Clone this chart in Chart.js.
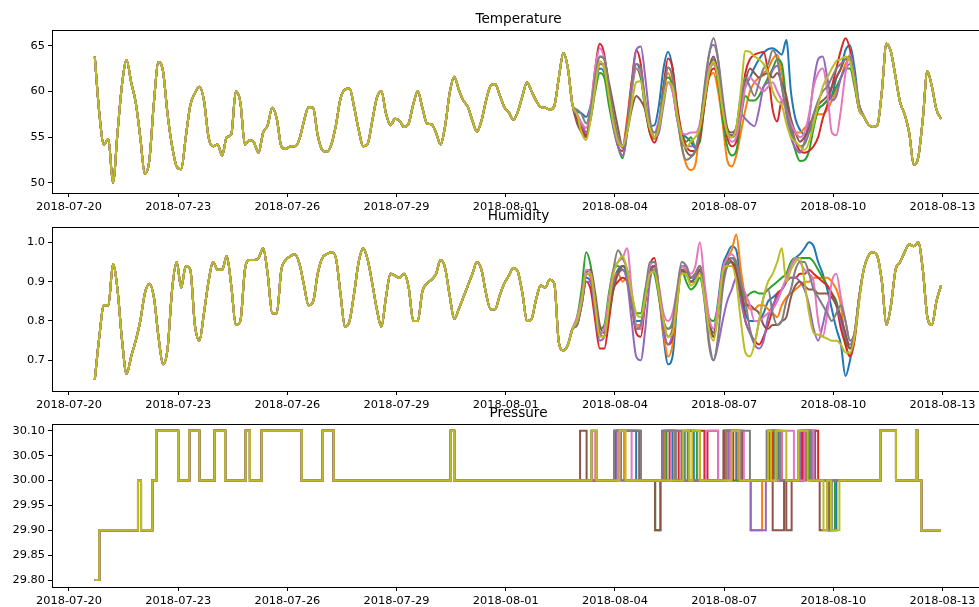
<!DOCTYPE html>
<html>
<head>
<meta charset="utf-8">
<title>Sensor readings</title>
<script src="https://cdn.jsdelivr.net/npm/chart.js"></script>
<style>
  html, body { margin: 0; padding: 0; background: #fff; overflow: hidden; }
  body { width: 979px; height: 607px; position: relative; }
  canvas { position: absolute; left: 0; }
  #tempChart { top: 0; }
  #humidChart { top: 200px; }
  #pressChart { top: 395px; }
</style>
</head>
<body>
<canvas id="tempChart" width="1000" height="215"></canvas>
<canvas id="humidChart" width="1000" height="213"></canvas>
<canvas id="pressChart" width="1000" height="214"></canvas>
<script>
// one colour per sensor, matplotlib tab10 order
const seriesColors = ['#1f77b4', '#ff7f0e', '#2ca02c', '#d62728', '#9467bd', '#8c564b', '#e377c2', '#7f7f7f', '#bcbd22'];

// readings every 3 hours, first one 2018-07-20 17:00 (x is hours since 07-20 00:00)
const startHour = 17;
const stepHours = 3;

const tickHours = [0, 72, 144, 216, 288, 360, 432, 504, 576];
const tickLabels = ['2018-07-20', '2018-07-23', '2018-07-26', '2018-07-29', '2018-08-01',
                    '2018-08-04', '2018-08-07', '2018-08-10', '2018-08-13'];

// ---- temperature ----
// sensors agree closely until Aug 2, then spread apart until Aug 10
const tempHead = [
  63.8, 57.6, 54.2, 54.8, 50.0, 55.5, 60.8, 63.4, 61.0, 58.8,
  55.0, 51.0, 52.5, 58.8, 63.2, 62.2, 57.5, 54.0, 51.8, 51.5,
  55.0, 58.5, 59.8, 60.5, 59.0, 55.0, 54.0, 54.2, 53.0, 55.0,
  55.3, 60.0, 58.8, 54.2, 54.7, 54.4, 53.3, 55.5, 56.3, 58.2,
  57.0, 54.0, 53.7, 54.0, 54.0, 54.8, 56.8, 58.3, 58.2, 55.2,
  53.6, 53.4, 54.2, 56.3, 59.2, 60.2, 60.3, 58.3, 55.8, 54.0,
  54.3, 56.8, 59.3, 60.0, 57.6, 56.3, 57.0, 56.8, 56.1, 56.5,
  58.6, 60.0, 58.2, 56.5, 56.4, 55.5, 54.2, 56.2, 59.8, 61.6,
  60.2, 59.0, 58.3, 56.8, 55.6, 56.8, 59.0, 60.6, 60.8, 59.6,
  58.3, 57.7, 56.9, 57.8, 59.5, 61.0, 60.0, 59.0, 58.3, 58.2,
  58.0, 58.4, 61.5, 64.2, 62.5, 58.5
];
const tempBlue = [
  57.8, 57.6, 57.2, 58.5, 61.0, 62.5, 62.0, 59.0, 56.5, 54.5,
  54.0, 56.5, 60.5, 63.0, 62.0, 58.0, 56.2, 56.3, 58.5, 62.5,
  64.3, 62.5, 58.0, 55.5, 55.0, 54.5, 53.8, 55.0, 58.5, 62.0,
  63.5, 61.0, 57.0, 55.5, 55.2, 56.0, 59.5, 60.5, 61.5, 62.6,
  63.5, 64.2, 64.6, 64.7, 64.4, 64.0, 65.6, 60.0, 57.0, 55.8,
  55.3, 55.5, 56.5, 58.0, 58.5, 59.0, 59.5, 61.5, 62.5, 64.5,
  65.0, 62.5, 58.5
];
const tempOrange = [
  57.0, 55.5, 55.0, 57.5, 61.0, 63.0, 62.5, 59.5, 56.5, 54.5,
  54.0, 57.0, 61.0, 62.5, 61.5, 58.5, 55.5, 54.8, 56.0, 59.5,
  62.0, 60.5, 57.5, 54.0, 52.0, 51.4, 52.0, 56.0, 60.0, 61.5,
  62.0, 60.0, 56.5, 52.5, 51.8, 53.0, 55.5, 58.0, 60.0, 61.0,
  61.5, 62.0, 62.5, 63.5, 64.0, 62.0, 59.0, 56.5, 55.5, 55.5,
  56.0, 56.5, 57.0, 57.5, 57.5, 58.0, 59.0, 60.0, 61.5, 63.0,
  63.5, 61.5, 58.5
];
const tempGreen = [
  57.0, 56.5, 55.5, 57.0, 60.0, 62.0, 61.5, 58.5, 56.0, 54.0,
  52.7, 55.5, 60.0, 62.5, 61.5, 58.0, 55.5, 55.0, 56.5, 60.5,
  61.5, 60.5, 57.0, 55.5, 54.5, 55.0, 54.0, 54.5, 58.5, 62.0,
  63.0, 61.0, 57.0, 54.0, 53.0, 53.5, 57.0, 59.5, 59.0, 59.0,
  59.5, 60.5, 61.5, 62.5, 63.5, 63.0, 59.0, 55.5, 53.5, 52.4,
  52.5, 53.5, 56.0, 58.0, 58.5, 59.0, 59.5, 60.5, 61.5, 62.5,
  62.5, 60.5, 58.0
];
const tempRed = [
  57.0, 56.0, 55.2, 58.0, 62.5, 65.2, 64.0, 60.0, 56.5, 54.0,
  53.5, 56.5, 61.0, 64.5, 63.0, 58.5, 55.5, 54.4, 56.0, 60.5,
  63.6, 62.5, 58.5, 55.5, 54.0, 53.5, 53.5, 55.0, 58.5, 61.5,
  62.5, 61.5, 58.0, 55.0, 54.0, 54.5, 58.0, 62.0, 63.5, 64.0,
  64.2, 64.3, 62.0, 58.0, 56.7, 59.0, 59.0, 56.5, 54.5, 53.5,
  53.3, 53.5, 54.0, 55.0, 57.0, 58.5, 60.5, 62.5, 64.5, 65.8,
  64.5, 61.0, 58.0
];
const tempPurple = [
  57.5, 56.5, 55.5, 57.0, 60.5, 63.0, 63.0, 60.0, 56.0, 54.0,
  53.0, 55.5, 60.5, 64.5, 64.9, 61.5, 57.0, 55.0, 55.5, 58.5,
  61.0, 60.0, 57.0, 54.5, 54.0, 54.0, 54.0, 56.0, 60.0, 64.0,
  65.1, 63.5, 59.5, 56.0, 55.0, 55.5, 57.5, 57.0, 56.5, 56.2,
  58.0, 60.5, 61.0, 62.3, 62.8, 60.5, 57.5, 55.0, 53.8, 53.3,
  54.5, 57.0, 61.0, 63.5, 63.8, 61.5, 59.0, 59.5, 61.5, 62.5,
  63.0, 61.0, 58.5
];
const tempBrown = [
  56.5, 55.5, 55.0, 57.5, 61.5, 63.8, 63.5, 61.0, 58.5, 56.0,
  54.0, 55.5, 58.0, 59.5, 59.0, 58.0, 56.0, 55.0, 56.5, 60.0,
  62.6, 61.5, 58.0, 55.0, 53.5, 53.0, 53.5, 55.5, 59.5, 62.5,
  63.8, 62.0, 58.5, 56.0, 55.5, 56.0, 58.0, 61.0, 62.5, 62.0,
  61.5, 61.8, 62.0, 61.5, 62.0, 61.0, 59.5, 57.0, 55.5, 54.5,
  55.0, 56.0, 57.5, 58.5, 59.0, 59.5, 60.5, 61.5, 62.5, 63.5,
  63.5, 61.0, 58.0
];
const tempPink = [
  57.5, 56.5, 56.0, 58.5, 62.5, 64.7, 63.5, 60.0, 57.0, 55.0,
  54.0, 56.0, 60.0, 62.5, 62.0, 58.5, 56.0, 55.5, 57.0, 59.5,
  61.0, 60.0, 57.0, 55.5, 55.3, 55.5, 55.5, 56.5, 59.5, 62.5,
  63.0, 61.5, 58.0, 55.5, 54.5, 55.0, 57.5, 60.5, 61.5, 61.0,
  60.5, 60.0, 60.5, 61.0, 60.0, 59.0, 58.0, 56.5, 55.5, 55.0,
  55.5, 57.5, 60.5, 62.0, 62.5, 60.0, 55.5, 55.2, 58.0, 62.0,
  64.0, 61.5, 58.5
];
const tempGray = [
  58.0, 57.5, 56.5, 58.0, 61.5, 63.8, 63.5, 60.5, 57.5, 55.0,
  53.8, 56.0, 60.5, 63.0, 62.5, 59.0, 56.5, 55.5, 56.5, 60.0,
  62.6, 61.5, 57.5, 54.0, 52.5, 52.8, 53.5, 56.0, 60.5, 64.0,
  65.8, 63.5, 58.5, 55.5, 55.0, 56.0, 59.0, 61.5, 60.5, 59.5,
  61.0, 62.5, 63.0, 64.5, 63.5, 60.5, 58.0, 56.0, 54.5, 54.0,
  54.2, 55.5, 57.5, 59.0, 60.0, 60.5, 61.5, 62.5, 63.0, 63.5,
  63.8, 61.5, 58.5
];
const tempOlive = [
  57.5, 55.5, 54.7, 57.0, 60.5, 63.3, 62.5, 59.5, 56.5, 54.5,
  54.0, 55.5, 58.5, 61.0, 61.1, 58.5, 56.0, 55.0, 56.0, 59.0,
  61.0, 60.5, 57.5, 55.0, 53.8, 54.5, 55.0, 56.0, 59.0, 62.0,
  63.3, 61.5, 58.0, 55.5, 55.0, 56.0, 60.0, 64.4, 64.3, 63.8,
  63.5, 63.0, 62.0, 60.0, 59.0, 58.5, 56.5, 55.0, 54.5, 54.0,
  53.6, 54.5, 56.5, 58.5, 60.5, 61.5, 62.5, 63.3, 63.5, 63.8,
  63.3, 61.0, 58.0
];
const tempTail = [57.3, 56.4, 56.1, 56.3, 60.0, 65.2, 64.3, 61.6, 58.8, 57.5, 55.5, 52.0, 52.8, 57.0, 62.2, 60.5, 58.0, 57.0];

// ---- humidity ----
const humidHead = [
  0.65, 0.76, 0.84, 0.84, 0.945, 0.88, 0.75, 0.665, 0.71, 0.75,
  0.80, 0.87, 0.895, 0.86, 0.76, 0.69, 0.73, 0.88, 0.95, 0.885,
  0.94, 0.93, 0.79, 0.75, 0.82, 0.90, 0.95, 0.93, 0.93, 0.965,
  0.89, 0.79, 0.80, 0.93, 0.955, 0.955, 0.96, 0.985, 0.92, 0.82,
  0.82, 0.93, 0.955, 0.965, 0.97, 0.945, 0.89, 0.84, 0.85, 0.92,
  0.96, 0.97, 0.975, 0.96, 0.87, 0.785, 0.80, 0.87, 0.95, 0.985,
  0.955, 0.895, 0.83, 0.785, 0.86, 0.92, 0.915, 0.91, 0.92, 0.885,
  0.80, 0.80, 0.875, 0.895, 0.905, 0.92, 0.955, 0.935, 0.865, 0.805,
  0.83, 0.86, 0.89, 0.92, 0.95, 0.93, 0.87, 0.83, 0.83, 0.865,
  0.895, 0.915, 0.935, 0.925, 0.87, 0.80, 0.805, 0.855, 0.89, 0.885,
  0.905, 0.895, 0.745, 0.725, 0.74, 0.78
];
const humidBlue = [
  0.79, 0.84, 0.91, 0.90, 0.83, 0.77, 0.78, 0.85, 0.90, 0.93,
  0.94, 0.92, 0.86, 0.80, 0.80, 0.86, 0.93, 0.94, 0.87, 0.76,
  0.69, 0.71, 0.84, 0.93, 0.92, 0.90, 0.91, 0.93, 0.88, 0.80,
  0.77, 0.85, 0.94, 0.97, 0.99, 0.98, 0.90, 0.82, 0.80, 0.80,
  0.80, 0.82, 0.85, 0.86, 0.87, 0.88, 0.90, 0.94, 0.96, 0.97,
  0.985, 1.0, 0.99, 0.95, 0.92, 0.88, 0.83, 0.78, 0.74, 0.66,
  0.70, 0.76, 0.86
];
const humidOrange = [
  0.80, 0.85, 0.92, 0.91, 0.84, 0.77, 0.77, 0.85, 0.91, 0.92,
  0.90, 0.91, 0.85, 0.79, 0.79, 0.86, 0.93, 0.93, 0.86, 0.77,
  0.71, 0.74, 0.85, 0.93, 0.93, 0.91, 0.92, 0.94, 0.88, 0.79,
  0.76, 0.83, 0.92, 0.96, 0.98, 1.02, 0.93, 0.86, 0.83, 0.83,
  0.84, 0.84, 0.83, 0.82, 0.81, 0.84, 0.86, 0.87, 0.88, 0.89,
  0.90, 0.90, 0.91, 0.91, 0.91, 0.91, 0.90, 0.88, 0.84, 0.74,
  0.71, 0.76, 0.86
];
const humidGreen = [
  0.81, 0.88, 0.975, 0.94, 0.85, 0.78, 0.79, 0.87, 0.93, 0.94,
  0.93, 0.92, 0.87, 0.82, 0.82, 0.88, 0.93, 0.92, 0.86, 0.80,
  0.78, 0.79, 0.86, 0.93, 0.90, 0.88, 0.89, 0.91, 0.86, 0.81,
  0.80, 0.84, 0.92, 0.95, 0.96, 0.94, 0.88, 0.86, 0.87, 0.875,
  0.87, 0.87, 0.88, 0.89, 0.90, 0.91, 0.92, 0.95, 0.96, 0.96,
  0.96, 0.96, 0.95, 0.93, 0.91, 0.89, 0.87, 0.85, 0.80, 0.75,
  0.73, 0.77, 0.86
];
const humidRed = [
  0.79, 0.84, 0.90, 0.88, 0.80, 0.73, 0.73, 0.80, 0.88, 0.90,
  0.91, 0.90, 0.84, 0.77, 0.76, 0.85, 0.94, 0.96, 0.88, 0.78,
  0.74, 0.76, 0.86, 0.94, 0.93, 0.91, 0.92, 0.94, 0.88, 0.80,
  0.76, 0.83, 0.92, 0.96, 0.95, 0.92, 0.87, 0.80, 0.77, 0.75,
  0.74, 0.76, 0.79, 0.83, 0.87, 0.88, 0.90, 0.91, 0.91, 0.92,
  0.92, 0.93, 0.92, 0.91, 0.90, 0.89, 0.87, 0.84, 0.78, 0.74,
  0.71, 0.75, 0.85
];
const humidPurple = [
  0.80, 0.84, 0.90, 0.90, 0.82, 0.75, 0.76, 0.83, 0.90, 0.92,
  0.93, 0.90, 0.80, 0.71, 0.70, 0.78, 0.90, 0.94, 0.87, 0.78,
  0.74, 0.77, 0.87, 0.94, 0.94, 0.91, 0.91, 0.93, 0.85, 0.75,
  0.70, 0.74, 0.80, 0.85, 0.88, 0.91, 0.85, 0.80, 0.77, 0.74,
  0.73, 0.75, 0.81, 0.84, 0.86, 0.88, 0.90, 0.91, 0.91, 0.90,
  0.88, 0.84, 0.78, 0.75, 0.79, 0.84, 0.86, 0.84, 0.80, 0.76,
  0.74, 0.77, 0.86
];
const humidBrown = [
  0.80, 0.85, 0.92, 0.93, 0.87, 0.79, 0.77, 0.82, 0.88, 0.92,
  0.94, 0.93, 0.86, 0.78, 0.78, 0.85, 0.93, 0.94, 0.88, 0.80,
  0.76, 0.78, 0.86, 0.93, 0.92, 0.90, 0.90, 0.93, 0.88, 0.80,
  0.76, 0.82, 0.90, 0.94, 0.95, 0.93, 0.87, 0.84, 0.84, 0.83,
  0.82, 0.79, 0.78, 0.79, 0.79, 0.80, 0.81, 0.86, 0.89, 0.90,
  0.89, 0.88, 0.88, 0.87, 0.87, 0.87, 0.86, 0.84, 0.81, 0.77,
  0.73, 0.76, 0.86
];
const humidPink = [
  0.81, 0.86, 0.93, 0.92, 0.85, 0.77, 0.78, 0.86, 0.93, 0.95,
  0.96, 0.985, 0.88, 0.79, 0.78, 0.86, 0.94, 0.95, 0.89, 0.82,
  0.80, 0.82, 0.88, 0.94, 0.93, 0.92, 0.94, 1.0, 0.90, 0.81,
  0.78, 0.84, 0.93, 0.96, 0.97, 0.95, 0.90, 0.87, 0.84, 0.80,
  0.80, 0.81, 0.82, 0.83, 0.85, 0.88, 0.91, 0.94, 0.96, 0.95,
  0.93, 0.92, 0.90, 0.80, 0.76, 0.82, 0.90, 0.92, 0.86, 0.80,
  0.75, 0.77, 0.86
];
const humidGray = [
  0.79, 0.85, 0.92, 0.92, 0.85, 0.77, 0.76, 0.84, 0.93, 0.98,
  0.96, 0.93, 0.85, 0.78, 0.79, 0.87, 0.95, 0.95, 0.88, 0.80,
  0.78, 0.80, 0.88, 0.95, 0.94, 0.91, 0.92, 0.94, 0.86, 0.74,
  0.70, 0.76, 0.88, 0.94, 0.96, 0.95, 0.90, 0.85, 0.78, 0.75,
  0.80, 0.86, 0.88, 0.82, 0.79, 0.80, 0.85, 0.88, 0.93, 0.95,
  0.95, 0.92, 0.88, 0.86, 0.84, 0.82, 0.80, 0.82, 0.84, 0.80,
  0.75, 0.77, 0.86
];
const humidOlive = [
  0.80, 0.85, 0.92, 0.92, 0.84, 0.76, 0.76, 0.84, 0.92, 0.95,
  0.965, 0.93, 0.87, 0.82, 0.81, 0.86, 0.92, 0.925, 0.87, 0.80,
  0.76, 0.77, 0.85, 0.92, 0.92, 0.89, 0.90, 0.92, 0.86, 0.78,
  0.75, 0.82, 0.92, 0.94, 0.94, 0.90, 0.80, 0.72, 0.71, 0.74,
  0.80, 0.86, 0.90, 0.92, 0.95, 0.985, 0.90, 0.93, 0.95, 0.96,
  0.90, 0.82, 0.77, 0.765, 0.76, 0.755, 0.75, 0.75, 0.74, 0.72,
  0.72, 0.76, 0.85
];
const humidTail = [0.93, 0.965, 0.975, 0.965, 0.90, 0.79, 0.84, 0.93, 0.95, 0.975, 0.995, 0.99, 1.0, 0.93, 0.81, 0.79, 0.85, 0.89];

// ---- pressure: [hour, reading] at every change of the reading ----
const pressHead = [
  [17, 29.80], [20, 29.90], [45.5, 30.00], [47.5, 29.90], [55, 30.00], [57.5, 30.10],
  [72, 30.00], [79.3, 30.10], [86, 30.00], [96, 30.10], [103, 30.00], [116.5, 30.10],
  [119.3, 30.00], [127, 30.10], [153.5, 30.00], [167.3, 30.10], [174.5, 30.00],
  [251.7, 30.10], [254, 30.00]
];
const pressBlue = [[361, 30.1], [374, 30], [392, 30.1], [398, 30], [406, 30.1], [412, 30], [433, 30.1], [440, 30],
  [462, 30.1], [468, 30], [483, 30.1], [491, 30], [501, 29.9], [506, 30]];
const pressOrange = [[362, 30.1], [366, 30], [393, 30.1], [399, 30], [405, 30.1], [409, 30], [434, 30.1], [441, 30],
  [449.5, 29.9], [457, 30], [463, 30.1], [467, 30], [484, 30.1], [489, 30]];
const pressGreen = [[344.5, 30.1], [348, 30], [359.5, 30.1], [362, 30], [386.5, 29.9], [390, 30], [394, 30.1], [400, 30],
  [408, 30.1], [414, 30], [432, 30.1], [437, 30], [461, 30.1], [465, 30], [481, 30.1], [488, 30], [501, 29.9], [505, 30]];
const pressRed = [[362, 30.1], [377, 30], [396, 30.1], [402, 30], [416, 30.1], [419, 30], [421, 30.1], [428, 30],
  [432, 30.1], [436, 30], [438, 30.1], [442, 30], [464, 30.1], [470, 30], [484, 30.1], [494, 30]];
const pressPurple = [[361, 30.1], [364, 30], [391, 30.1], [400, 30], [435, 30.1], [443, 30], [449.5, 29.9], [459.5, 30],
  [461, 30.1], [466, 30], [482, 30.1], [490, 30]];
const pressBrown = [[337, 30.1], [341.3, 30], [360, 30.1], [376, 30], [386.5, 29.9], [390, 30], [404, 30.1], [416, 30],
  [431.5, 30.1], [444, 30], [464, 29.9], [471.5, 30], [473, 29.9], [476.5, 30], [486, 30.1], [492, 30], [495, 29.9], [500.5, 30]];
const pressPink = [[345, 30.1], [347, 30], [362, 30.1], [371, 30], [397, 30.1], [404, 30], [420, 30.1], [428, 30],
  [436, 30.1], [445, 30], [470, 30.1], [478, 30], [485, 30.1], [491, 30]];
const pressGray = [[344.5, 30.1], [348, 30], [359.5, 30.1], [377, 30], [392, 30.1], [404, 30], [433, 30.1], [449, 30],
  [460, 30.1], [469, 30], [481, 30.1], [489, 30], [500, 29.9], [503, 30]];
const pressOlive = [[344.5, 30.1], [348, 30], [363, 30.1], [367, 30], [405, 30.1], [409, 30], [411, 30.1], [416, 30],
  [437, 30.1], [442, 30], [461, 30.1], [463, 30], [466, 30.1], [473, 30], [481, 30.1], [487, 30], [497.5, 29.9], [500, 30],
  [502.5, 29.9], [508, 30]];
const pressTail = [[535, 30.10], [545.3, 30.00], [558.5, 30.10], [559.5, 30.00], [562, 29.90], [575, 29.90]];

const tickFont = { family: 'DejaVu Sans', size: 11.35 };
Chart.defaults.color = '#000';

// box around the plot area plus the panel title above it
const frame = {
  id: 'frame',
  afterDraw(chart, args, opts) {
    const { ctx, chartArea: a } = chart;
    ctx.save();
    ctx.strokeStyle = '#000';
    ctx.lineWidth = 1;
    ctx.strokeRect(Math.round(a.left) + 0.5, Math.round(a.top) + 0.5,
                   Math.round(a.right - a.left), Math.round(a.bottom - a.top));
    ctx.fillStyle = '#000';
    ctx.font = '13.6px "DejaVu Sans"';
    ctx.textAlign = 'center';
    ctx.textBaseline = 'alphabetic';
    ctx.fillText(opts.text, (a.left + a.right) / 2, a.top - 7);
    ctx.restore();
  }
};

// later sensors are painted over earlier ones, so olive ends up on top
function curveSets(head, mids, tail) {
  return mids.map((mid, i) => ({
    data: head.concat(mid, tail).map((y, j) => ({ x: startHour + j * stepHours, y })),
    borderColor: seriesColors[i],
    borderWidth: 2,
    pointRadius: 0,
    cubicInterpolationMode: 'monotone',
    fill: false,
    order: mids.length - i
  }));
}

function stepSets(head, mids, tail) {
  return mids.map((mid, i) => ({
    data: head.concat(mid, tail).map(([x, y]) => ({ x, y })),
    borderColor: seriesColors[i],
    borderWidth: 2,
    pointRadius: 0,
    stepped: true,
    fill: false,
    order: mids.length - i
  }));
}

function panel(id, title, datasets, yTicks, yMin, yMax, digits, padTop) {
  return new Chart(document.getElementById(id), {
    type: 'line',
    data: { datasets },
    options: {
      responsive: false,
      animation: false,
      layout: { padding: { top: padTop, right: 15, left: 0, bottom: 0 } },
      plugins: { legend: { display: false }, tooltip: { enabled: false }, frame: { text: title } },
      scales: {
        x: {
          type: 'linear', min: -11.2, max: 604,
          afterBuildTicks: s => { s.ticks = tickHours.map(v => ({ value: v })); },
          afterFit: s => { s.height = 22; },
          ticks: { callback: (v, i) => tickLabels[i], autoSkip: false, maxRotation: 0, padding: 3, font: tickFont },
          grid: { drawOnChartArea: false, tickLength: 4, color: '#000' },
          border: { display: false }
        },
        y: {
          type: 'linear', min: yMin, max: yMax,
          afterBuildTicks: s => { s.ticks = yTicks.map(v => ({ value: v })); },
          afterFit: s => { s.width = 52; },
          ticks: { callback: v => v.toFixed(digits), padding: 3, font: tickFont },
          grid: { drawOnChartArea: false, tickLength: 4, color: '#000' },
          border: { display: false }
        }
      }
    },
    plugins: [frame]
  });
}

panel('tempChart', 'Temperature',
  curveSets(tempHead, [tempBlue, tempOrange, tempGreen, tempRed, tempPurple, tempBrown, tempPink, tempGray, tempOlive], tempTail),
  [50, 55, 60, 65], 48.9, 66.7, 0, 30);

panel('humidChart', 'Humidity',
  curveSets(humidHead, [humidBlue, humidOrange, humidGreen, humidRed, humidPurple, humidBrown, humidPink, humidGray, humidOlive], humidTail),
  [0.7, 0.8, 0.9, 1.0], 0.622, 1.039, 1, 27);

panel('pressChart', 'Pressure',
  stepSets(pressHead, [pressBlue, pressOrange, pressGreen, pressRed, pressPurple, pressBrown, pressPink, pressGray, pressOlive], pressTail),
  [29.8, 29.85, 29.9, 29.95, 30.0, 30.05, 30.1], 29.786, 30.1135, 2, 29);
</script>
</body>
</html>
